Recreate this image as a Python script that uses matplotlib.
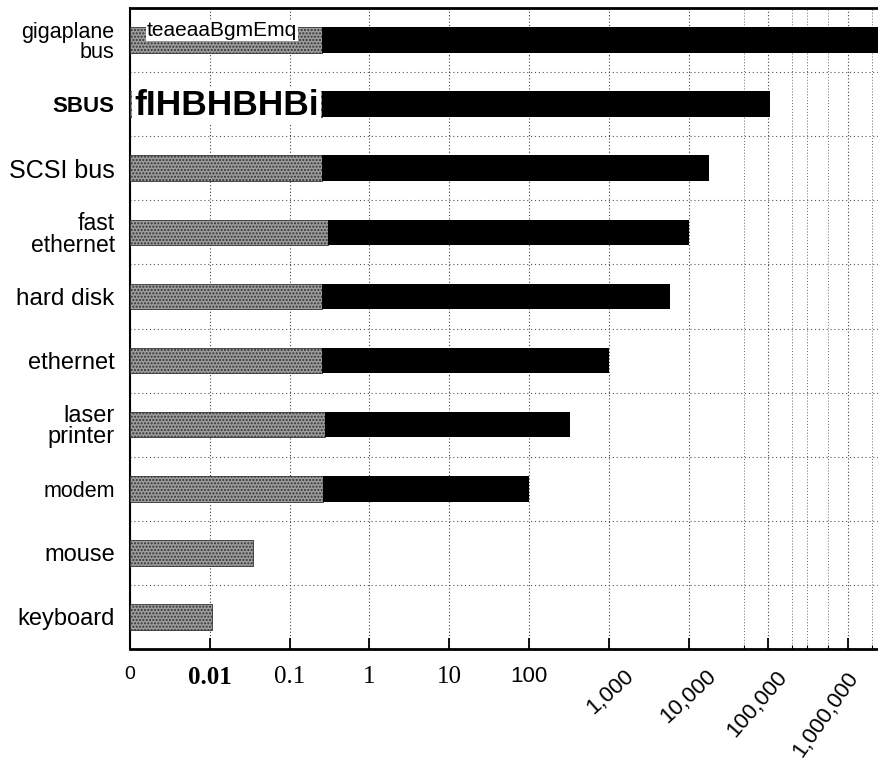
import numpy as np
import matplotlib
matplotlib.use("Agg")
import matplotlib.pyplot as plt
import matplotlib.transforms as mtransforms
from matplotlib.ticker import FixedLocator

# -------------------------------
# Data (log scale)
# -------------------------------
devices = ["gigaplane\nbus", "SBUS", "SCSI bus", "fast\nethernet", "hard disk",
           "ethernet", "laser\nprinter", "modem", "mouse", "keyboard"]
rates = [2.6e6, 1.05e5, 1.8e4, 1.0e4, 5.8e3, 1.0e3, 3.3e2, 1.0e2, 0.035, 0.0107]
gray_end = [0.255, 0.255, 0.255, 0.30, 0.255, 0.255, 0.28, 0.26, 0.035, 0.0107]

tick_values = [0.001, 0.01, 0.1, 1, 10, 100, 1000, 10000, 100000, 1000000]
tick_labels = ["0", "0.01", "0.1", "1", "10", "100",
               "1,000", "10,000", "100,000", "1,000,000"]

# scan artefacts that show up as text in the picture
overlay_texts = ["teaeaaBgmEmq", "fIHBHBHBi"]

SANS = "Liberation Sans"
SERIF = "Liberation Serif"

# -------------------------------
# Figure
# -------------------------------
fig = plt.figure(figsize=(8.79, 7.65), dpi=100)
ax = fig.add_axes([130 / 879, 116 / 765, 749 / 879, 641 / 765])

ypos = np.arange(len(devices))
x0 = 0.001
ax.set_xscale("log")
ax.set_xlim(x0, 2.43e6)
ax.set_ylim(len(devices) - 0.5, -0.5)

# gray (stippled) part
ax.barh(ypos, np.array(gray_end) - x0, left=x0, height=0.4,
        color="#9c9c9c", hatch=".....", edgecolor="#333333", linewidth=0.6, zorder=3)
# black part
for y, r, g in zip(ypos, rates, gray_end):
    if r > g:
        ax.barh(y, r - g, left=g, height=0.4, color="black", zorder=3)

# dotted grid
ax.xaxis.set_minor_locator(FixedLocator([5e4, 2e5, 3e5, 5.5e5, 2e6]))
ax.grid(axis="x", which="major", linestyle=(0, (1, 2)), color="#444444", linewidth=0.8, zorder=1)
ax.grid(axis="x", which="minor", linestyle=(0, (1, 2)), color="#666666", linewidth=0.7, zorder=1)
for y in ypos[:-1]:
    ax.axhline(y + 0.5, linestyle=(0, (1, 2.5)), color="#555555", linewidth=0.8, zorder=1)

# spines
for side in ["top", "bottom"]:
    ax.spines[side].set_linewidth(2)
ax.spines["left"].set_linewidth(1.5)
ax.spines["right"].set_visible(False)

# y labels
ax.set_yticks(ypos)
ax.set_yticklabels(devices, fontfamily=SANS, fontsize=17, linespacing=0.95)
ax.tick_params(axis="y", length=0, pad=11)
ylab_sizes = [15.5, 16, 18, 16.5, 17.5, 17, 17, 15.5, 17, 17]
for lbl, s in zip(ax.get_yticklabels(), ylab_sizes):
    lbl.set_fontsize(s)
ax.get_yticklabels()[1].set_fontweight("bold")

# x labels
ax.set_xticks(tick_values)
ax.set_xticklabels(tick_labels)
ax.tick_params(axis="x", which="major", direction="in", length=8, width=1.3, pad=12)
ax.tick_params(axis="x", which="minor", direction="in", length=3, width=0.8)

rot_angle = [42, 43, 49, 55]
rot_dx = [22, 25, 15, 6]
for i, lbl in enumerate(ax.get_xticklabels()):
    if i == 0:
        lbl.set_fontfamily(SANS)
        lbl.set_fontsize(14)
    elif i <= 4:
        lbl.set_fontfamily(SERIF)
        lbl.set_fontsize(18)
        if i == 1:
            lbl.set_fontweight("bold")
    elif i == 5:
        lbl.set_fontfamily(SANS)
        lbl.set_fontsize(16)
    else:
        k = i - 6
        lbl.set_fontfamily(SANS)
        lbl.set_fontsize(16)
        lbl.set_rotation(rot_angle[k])
        lbl.set_rotation_mode("anchor")
        lbl.set_ha("right")
        lbl.set_va("center")
        shift = mtransforms.ScaledTranslation(rot_dx[k] / 100, -8 / 100, fig.dpi_scale_trans)
        lbl.set_transform(lbl.get_transform() + shift)

# overlay text from the scan
ax.text(0.00163, -0.06, overlay_texts[0], fontfamily=SANS, fontsize=15,
        va="baseline", ha="left", zorder=5,
        bbox=dict(facecolor="white", edgecolor="none", pad=0.5))
ax.text(0.00112, 1.17, overlay_texts[1], fontfamily=SANS, fontsize=25.5, fontweight="bold",
        va="baseline", ha="left", zorder=5,
        bbox=dict(facecolor="white", edgecolor="none", pad=1.5))

fig.savefig("out.png", dpi=100)
